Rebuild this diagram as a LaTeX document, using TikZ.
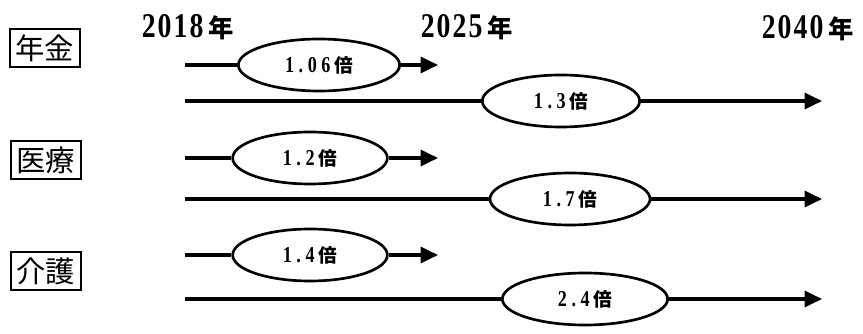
\documentclass[tikz,border=0pt]{standalone}
\usepackage{fontspec}
\usetikzlibrary{arrows.meta,shapes.geometric}
\newfontfamily\cjk{Noto Sans CJK JP}
\newfontfamily\yrfont[LetterSpace=6,FakeStretch=0.8]{Liberation Serif}
\newfontfamily\ratfont[LetterSpace=20,FakeStretch=0.8]{Liberation Serif}
\tikzset{
  yrlabel/.style={inner sep=0pt, font=\bfseries\fontsize{26pt}{28pt}\selectfont},
  catbox/.style={draw, line width=1.6pt, inner sep=0pt, minimum width=52pt, minimum height=28pt,
    font=\cjk\fontsize{22pt}{24pt}\selectfont},
  oval/.style={ellipse, draw, line width=2pt, fill=white, inner sep=0pt, minimum height=39pt,
    font=\bfseries\fontsize{17pt}{19pt}\selectfont},
  flowline/.style={line width=2.3pt},
  flowarrow/.style={line width=2.3pt, -{Triangle[length=13pt,width=12pt]}}
}
\newcommand{\kanjiyr}{{\cjk\bfseries\fontsize{19pt}{21pt}\selectfont 年}}
\newcommand{\kanjibai}{{\cjk\bfseries\fontsize{14pt}{16pt}\selectfont 倍}}
\begin{document}
\begin{tikzpicture}[x=0.75pt,y=-0.75pt]
\useasboundingbox (0,0) rectangle (863,334);
% year labels
\node[yrlabel] (y2018) at (188,27) {\yrfont\bfseries 2018\kern4pt\kanjiyr};
\node[yrlabel] (y2025) at (467,27) {\yrfont\bfseries 2025\kern4pt\kanjiyr};
\node[yrlabel] (y2040) at (808,28) {\yrfont\bfseries 2040\kern4pt\kanjiyr};
% category boxes
\node[catbox] (nenkin) at (45,48) {年金};
\node[catbox] (iryo) at (46,160) {医療};
\node[catbox] (kaigo) at (46,271) {介護};
% row coordinates
\coordinate (a1s) at (185,65);  \coordinate (a1e) at (438,65);
\coordinate (b1s) at (185,101); \coordinate (b1e) at (822,101);
\coordinate (a2s) at (185,158); \coordinate (a2e) at (438,158);
\coordinate (b2s) at (185,199); \coordinate (b2e) at (822,199);
\coordinate (a3s) at (185,255); \coordinate (a3e) at (438,255);
\coordinate (b3s) at (185,299); \coordinate (b3e) at (822,299);
% ovals
\node[oval, minimum width=121pt] (r1) at (319,65) {\ratfont\bfseries 1.06\,\kanjibai};
\node[oval, minimum width=118pt] (r2) at (561,101) {\ratfont\bfseries 1.3\,\kanjibai};
\node[oval, minimum width=116pt] (r3) at (310,158) {\ratfont\bfseries 1.2\,\kanjibai};
\node[oval, minimum width=120pt] (r4) at (570,199) {\ratfont\bfseries 1.7\,\kanjibai};
\node[oval, minimum width=116pt] (r5) at (310,255) {\ratfont\bfseries 1.4\,\kanjibai};
\node[oval, minimum width=124pt] (r6) at (585,299) {\ratfont\bfseries 2.4\,\kanjibai};
% connectors
\draw[flowline] (a1s) -- (r1.west); \draw[flowarrow] (r1.east) -- (a1e);
\draw[flowline] (b1s) -- (r2.west); \draw[flowarrow] (r2.east) -- (b1e);
\draw[flowline] (a2s) -- (r3.west); \draw[flowarrow] (r3.east) -- (a2e);
\draw[flowline] (b2s) -- (r4.west); \draw[flowarrow] (r4.east) -- (b2e);
\draw[flowline] (a3s) -- (r5.west); \draw[flowarrow] (r5.east) -- (a3e);
\draw[flowline] (b3s) -- (r6.west); \draw[flowarrow] (r6.east) -- (b3e);
\end{tikzpicture}
\end{document}
